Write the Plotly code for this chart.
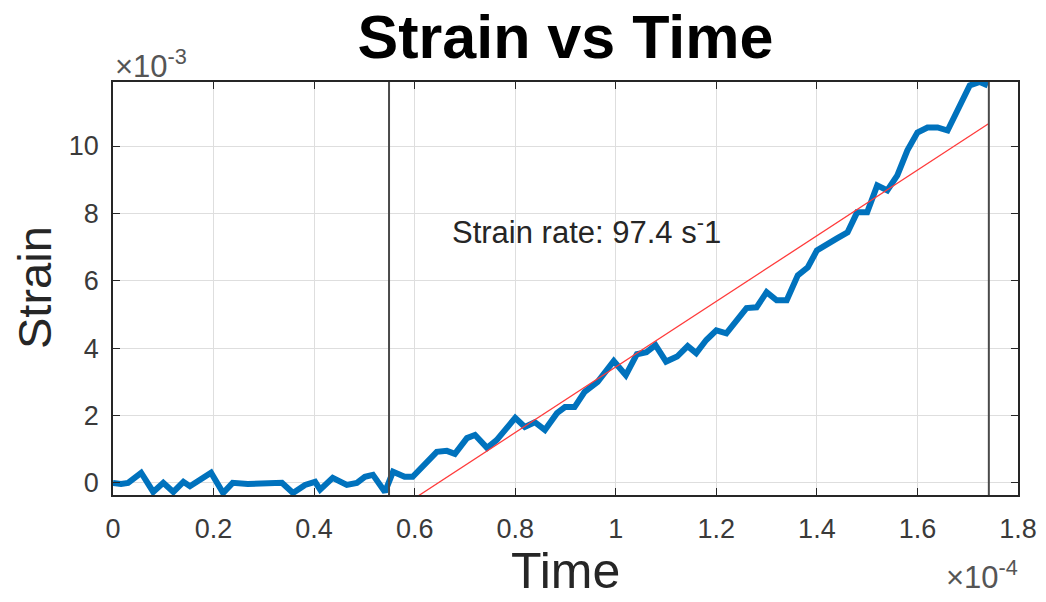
import plotly.graph_objects as go

# Time in units of 1e-4 s, strain in units of 1e-3
time_e4 = [0.000, 0.016, 0.030, 0.056, 0.080, 0.100, 0.120, 0.140, 0.153, 0.173,
           0.195, 0.219, 0.238, 0.268, 0.306, 0.336, 0.358, 0.382, 0.402, 0.412,
           0.437, 0.465, 0.485, 0.501, 0.517, 0.541, 0.557, 0.580, 0.596, 0.616,
           0.644, 0.664, 0.680, 0.704, 0.720, 0.744, 0.763, 0.800, 0.819, 0.839,
           0.859, 0.883, 0.899, 0.918, 0.938, 0.964, 0.996, 1.020, 1.042, 1.061,
           1.079, 1.100, 1.122, 1.143, 1.160, 1.180, 1.200, 1.220, 1.240, 1.260,
           1.280, 1.300, 1.320, 1.340, 1.362, 1.382, 1.400, 1.420, 1.440, 1.461,
           1.480, 1.500, 1.520, 1.540, 1.560, 1.580, 1.600, 1.620, 1.640, 1.660,
           1.680, 1.704, 1.724, 1.740]
strain_e3 = [0.00, -0.03, 0.00, 0.30, -0.27, 0.00, -0.27, 0.03, -0.10, 0.10,
             0.30, -0.30, 0.00, -0.03, -0.03, 0.00, -0.30, -0.06, 0.03, -0.20,
             0.15, -0.06, 0.00, 0.18, 0.24, -0.27, 0.33, 0.18, 0.18, 0.47,
             0.92, 0.95, 0.86, 1.33, 1.42, 1.04, 1.27, 1.93, 1.66, 1.80,
             1.57, 2.07, 2.25, 2.25, 2.70, 3.00, 3.62, 3.20, 3.82, 3.88,
             4.09, 3.60, 3.75, 4.06, 3.85, 4.24, 4.53, 4.44, 4.83, 5.19,
             5.21, 5.66, 5.42, 5.42, 6.16, 6.40, 6.90, 7.10, 7.26, 7.44,
             8.03, 8.03, 8.83, 8.68, 9.13, 9.87, 10.40, 10.55, 10.55, 10.46,
             11.10, 11.80, 11.90, 11.80]

strain_rate = 97.4          # 1/s
fit_intercept_e3 = -6.3     # strain intercept, x1e-3
window_e4 = [0.549, 1.742]  # fit window bounds (x1e-4 s)

x_ticks = [0, 0.2, 0.4, 0.6, 0.8, 1.0, 1.2, 1.4, 1.6, 1.8]
x_tick_text = ["0", "0.2", "0.4", "0.6", "0.8", "1", "1.2", "1.4", "1.6", "1.8"]
y_ticks = [0, 2, 4, 6, 8, 10]
y_tick_text = ["0", "2", "4", "6", "8", "10"]

x_range = [0, 1.8]
y_range = [-0.36, 11.9]

# fit line in scaled units: strain_e3 = rate * t_e4 * 1e-4 * 1e3 + intercept
fit_x = [window_e4[0], window_e4[1]]
fit_y = [strain_rate * t * 0.1 + fit_intercept_e3 for t in fit_x]

FONT = "Liberation Sans, Arial, Helvetica, sans-serif"
AX = "#262626"

W, H = 1046, 602
L, R, T, B = 113, 28, 82, 107
PW, PH = W - L - R, H - T - B


def px_x(px):
    return (px - L) / PW


def px_y(py):
    return (H - B - py) / PH


fig = go.Figure()
fig.add_trace(go.Scatter(x=time_e4, y=strain_e3, mode="lines",
                         line=dict(color="#0072BD", width=6), showlegend=False))
fig.add_trace(go.Scatter(x=fit_x, y=fit_y, mode="lines",
                         line=dict(color="#FF3B3B", width=1.3), showlegend=False))
for xv in window_e4:
    fig.add_trace(go.Scatter(x=[xv, xv], y=y_range, mode="lines",
                             line=dict(color="#4a4a4a", width=2), showlegend=False))

axis_common = dict(showgrid=True, gridcolor="#dedede", gridwidth=1,
                   showline=True, linecolor=AX, linewidth=1.5, mirror="allticks",
                   ticks="inside", ticklen=7, tickcolor=AX, tickwidth=1.2,
                   zeroline=False, automargin=False,
                   tickfont=dict(family=FONT, size=27, color="#3a3a3a"))

fig.update_xaxes(range=x_range, tickvals=x_ticks, ticktext=x_tick_text,
                 ticklabelstandoff=9, **axis_common)
fig.update_yaxes(range=y_range, tickvals=y_ticks, ticktext=y_tick_text,
                 ticklabelstandoff=7, **axis_common)

fig.update_layout(
    width=W, height=H,
    margin=dict(l=L, r=R, t=T, b=B, autoexpand=False),
    plot_bgcolor="white", paper_bgcolor="white",
    title=dict(text="<b>Strain vs Time</b>", x=0.5, xref="paper",
               y=1 - 37 / H, yref="container", yanchor="middle", xanchor="center",
               font=dict(family=FONT, size=61, color="black")),
    annotations=[
        dict(text="Strain rate: %.1f s<sup>-</sup>1" % strain_rate,
             x=0.67, y=7.5, xref="x", yref="y", xanchor="left", yanchor="middle",
             showarrow=False, font=dict(family=FONT, size=31, color="#262626")),
        dict(text="Time", x=0.5, y=px_y(601), xref="paper", yref="paper",
             xanchor="center", yanchor="bottom", showarrow=False,
             font=dict(family=FONT, size=50, color="#262626")),
        dict(text="Strain", x=px_x(34), y=px_y(288), xref="paper", yref="paper",
             xanchor="center", yanchor="middle", textangle=-90, showarrow=False,
             font=dict(family=FONT, size=47, color="#262626")),
        dict(text="×10<sup>-3</sup>", x=px_x(113), y=px_y(64),
             xref="paper", yref="paper", xanchor="left", yanchor="middle",
             showarrow=False, font=dict(family=FONT, size=31, color="#555555")),
        dict(text="×10<sup>-4</sup>", x=px_x(1020), y=px_y(575),
             xref="paper", yref="paper", xanchor="right", yanchor="middle",
             showarrow=False, font=dict(family=FONT, size=31, color="#555555")),
    ],
)

fig.write_html("out.html", config={"displayModeBar": False},
               post_script="document.body.style.margin='0';")
